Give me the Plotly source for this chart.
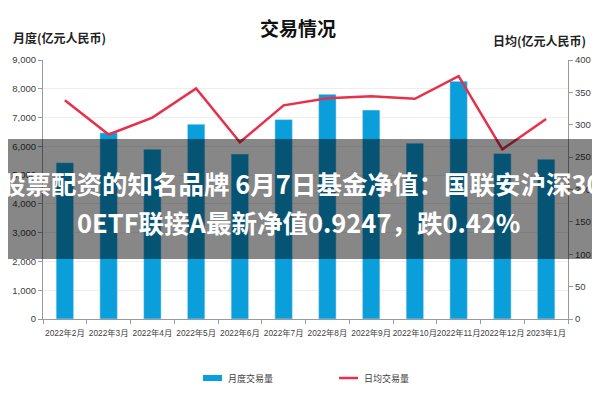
import plotly.graph_objects as go

months = ["2022年2月", "2022年3月", "2022年4月", "2022年5月", "2022年6月", "2022年7月",
          "2022年8月", "2022年9月", "2022年10月", "2022年11月", "2022年12月", "2023年1月"]
monthly_volume = [5430, 6470, 5900, 6770, 5730, 6930, 7810, 7260, 6110, 8260, 5750, 5550]
daily_avg = [338, 285, 311, 356, 273, 330, 341, 344, 340, 375, 262, 309]

title_text = "交易情况"
left_axis_title = "月度(亿元人民币)"
right_axis_title = "日均(亿元人民币)"
bar_name = "月度交易量"
line_name = "日均交易量"
overlay_line1 = "股票配资的知名品牌 6月7日基金净值：国联安沪深30"
overlay_line2 = "0ETF联接A最新净值0.9247，跌0.42%"

BLUE = "#0A9FDB"
RED = "#E8304A"
TICKFONT = dict(family="Liberation Sans, Noto Sans CJK SC, sans-serif", size=9.5, color="#404040")
CJK = "Noto Sans CJK SC"

# page body adds an 8px offset; work in reference pixel coordinates
OFF = 8
W, H = 600 - OFF, 400 - OFF
PL, PR, PT, PB = 43, 568, 60, 319  # plot area in reference pixels
L, R, T, B = PL - OFF, W - (PR - OFF), PT - OFF, H - (PB - OFF)
pw, ph = W - L - R, H - T - B


def px(x):
    return (x - PL) / pw


def py(y):
    return (PB - y) / ph


fig = go.Figure()
fig.add_trace(go.Bar(x=months, y=monthly_volume, name=bar_name, marker_color=BLUE,
                     width=0.4, yaxis="y", showlegend=False))
fig.add_trace(go.Scatter(x=months, y=daily_avg, name=line_name, mode="lines",
                         line=dict(color=RED, width=2.5), yaxis="y2", showlegend=False))

fig.update_layout(
    width=W, height=H,
    margin=dict(l=L, r=R, t=T, b=B, autoexpand=False),
    paper_bgcolor="white", plot_bgcolor="white",
    xaxis=dict(type="category", showline=True, linecolor="#9a9a9a", linewidth=1,
               ticks="outside", tickson="boundaries", ticklen=4, tickcolor="#9a9a9a",
               tickangle=0, automargin=False, ticklabelstandoff=6,
               tickfont=dict(family="Liberation Sans, Noto Sans CJK SC, sans-serif", size=8.3, color="#404040"),
               showgrid=False),
    yaxis=dict(range=[0, 9000], dtick=1000, tickformat=",", showgrid=True, gridcolor="#eeeeee",
               showline=True, linecolor="#9a9a9a", ticks="outside", ticklen=4, tickcolor="#9a9a9a",
               tickfont=TICKFONT, zeroline=False, automargin=False),
    yaxis2=dict(range=[0, 400], dtick=50, overlaying="y", side="right", showgrid=False,
                showline=True, linecolor="#9a9a9a", ticks="outside", ticklen=4, tickcolor="#9a9a9a",
                tickfont=TICKFONT, zeroline=False, automargin=False),
)

annotations = [
    dict(text=f"<b>{title_text}</b>", x=px(298), y=py(27), xref="paper", yref="paper",
         showarrow=False, font=dict(family=CJK, size=19, color="#111111"), xanchor="center", yanchor="middle"),
    dict(text=f"<b>{left_axis_title}</b>", x=px(11), y=py(38), xref="paper", yref="paper",
         showarrow=False, font=dict(family=CJK, size=12, color="#222222"), xanchor="left", yanchor="middle"),
    dict(text=f"<b>{right_axis_title}</b>", x=px(588), y=py(41), xref="paper", yref="paper",
         showarrow=False, font=dict(family=CJK, size=12, color="#222222"), xanchor="right", yanchor="middle"),
    dict(text=bar_name, x=px(226), y=py(378), xref="paper", yref="paper",
         showarrow=False, font=dict(family=CJK, size=9, color="#404040"), xanchor="left", yanchor="middle"),
    dict(text=line_name, x=px(362), y=py(378), xref="paper", yref="paper",
         showarrow=False, font=dict(family=CJK, size=9, color="#404040"), xanchor="left", yanchor="middle"),
    dict(text=f"<b>{overlay_line1}</b>", x=px(300), y=py(182), xref="paper", yref="paper",
         showarrow=False, font=dict(family=CJK, size=25.5, color="white"), xanchor="center", yanchor="middle"),
    dict(text=f"<b>{overlay_line2}</b>", x=px(298), y=py(221), xref="paper", yref="paper",
         showarrow=False, font=dict(family=CJK, size=25.5, color="white"), xanchor="center", yanchor="middle"),
]

shapes = [
    dict(type="rect", xref="paper", yref="paper", x0=px(-10), x1=px(610), y0=py(259), y1=py(139),
         fillcolor="rgba(0,0,0,0.47)", line=dict(width=0), layer="above"),
    dict(type="rect", xref="paper", yref="paper", x0=px(203), x1=px(222), y0=py(381), y1=py(375),
         fillcolor=BLUE, line=dict(width=0)),
    dict(type="line", xref="paper", yref="paper", x0=px(339), x1=px(358), y0=py(378), y1=py(378),
         line=dict(color=RED, width=2.5)),
]

fig.update_layout(annotations=annotations, shapes=shapes)
fig.write_html("out.html")
